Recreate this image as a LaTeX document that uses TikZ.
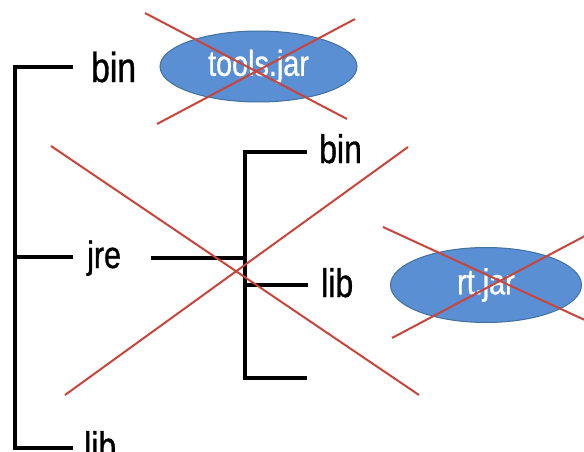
\documentclass[tikz,border=0pt]{standalone}
\usepackage{fontspec}
\setmainfont[FakeStretch=0.8,FakeBold=0.8]{Liberation Sans}
\usetikzlibrary{shapes.geometric}
\definecolor{jarblue}{HTML}{5B8FD3}
\definecolor{jaredge}{HTML}{41719C}
\definecolor{crossred}{HTML}{C8453C}
\begin{document}
\begin{tikzpicture}[x=1pt,y=-1pt,
  tree/.style={line width=4.5pt, black, line cap=butt, line join=miter},
  lbl/.style={inner sep=0pt, anchor=base west, font=\fontsize{40}{46}\selectfont},
  jar/.style={ellipse, fill=jarblue, draw=jaredge, line width=1pt, inner sep=0pt,
              text=white, font=\fontsize{36}{42}\selectfont},
  cross/.style={crossred, line width=2pt}]
\useasboundingbox (0,0) rectangle (584,452);
\clip (0,0) rectangle (584,452);

% tree joints
\coordinate (r0) at (15,67);
\coordinate (r1) at (15,448);
\coordinate (bintip) at (73,67);
\coordinate (jreroot) at (15,257);
\coordinate (jretip) at (73,257);
\coordinate (libtip) at (73,448);
\coordinate (jrelink) at (151,258);
\coordinate (s0) at (245,152);
\coordinate (sm) at (245,258);
\coordinate (s1) at (245,378);
\coordinate (s0tip) at (307,152);
\coordinate (s1mid) at (245,285);
\coordinate (s1tip) at (308,285);
\coordinate (s2tip) at (307,378);

% black tree
\draw[tree] (bintip) -- (r0) -- (r1) -- (libtip);
\draw[tree] (jreroot) -- (jretip);
\draw[tree] (jrelink) -- (sm);
\draw[tree] (s0tip) -- (s0) -- (s1) -- (s2tip);
\draw[tree] (s1mid) -- (s1tip);

% labels
\node[lbl, font=\fontsize{42}{48}\selectfont] (bin1) at (91,82) {bin};
\node[lbl, font=\fontsize{38}{44}\selectfont] (jre) at (87,268) {jre};
\node[lbl] (lib1) at (84,460) {lib};
\node[lbl] (bin2) at (319,163) {bin};
\node[lbl] (lib2) at (321,297) {lib};

% jars
\node[jar, minimum width=197pt, minimum height=71pt] (tools) at (258.5,66.5) {tools.jar};
\node[jar, minimum width=191pt, minimum height=75pt] (rt) at (486,285) {rt.jar};

% red crosses
\coordinate (ta) at (145,13);  \coordinate (tb) at (347,119);
\coordinate (tc) at (355,19);  \coordinate (td) at (157,124);
\coordinate (ba) at (51,146);  \coordinate (bb) at (419,395);
\coordinate (bc) at (408,147); \coordinate (bd) at (65,395);
\coordinate (ra) at (383,227); \coordinate (rb) at (600,327);
\coordinate (rc) at (392,338); \coordinate (rd) at (600,228);
\draw[cross] (ta) -- (tb);
\draw[cross] (tc) -- (td);
\draw[cross] (ba) -- (bb);
\draw[cross] (bc) -- (bd);
\draw[cross] (ra) -- (rb);
\draw[cross] (rc) -- (rd);
\end{tikzpicture}
\end{document}
